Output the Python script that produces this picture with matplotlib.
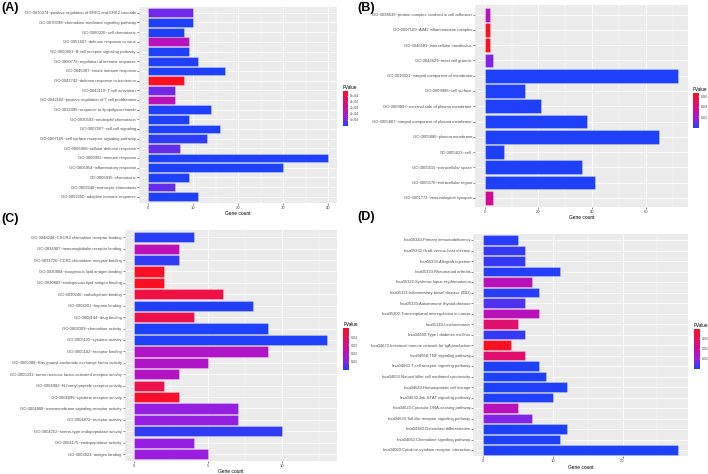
import numpy as np
import matplotlib
matplotlib.use("Agg")
import matplotlib.pyplot as plt
from matplotlib.colors import LinearSegmentedColormap, Normalize
from matplotlib.cm import ScalarMappable

plt.rcParams['font.family'] = ['Liberation Sans', 'DejaVu Sans']

# (A) biological process
a_terms = ["GO:0070374~positive regulation of ERK1 and ERK2 cascade",
           "GO:0070098~chemokine-mediated signaling pathway",
           "GO:0060326~cell chemotaxis",
           "GO:0051607~defense response to virus",
           "GO:0050853~B cell receptor signaling pathway",
           "GO:0050776~regulation of immune response",
           "GO:0045087~innate immune response",
           "GO:0042742~defense response to bacterium",
           "GO:0042110~T cell activation",
           "GO:0042102~positive regulation of T cell proliferation",
           "GO:0032496~response to lipopolysaccharide",
           "GO:0030593~neutrophil chemotaxis",
           "GO:0007267~cell-cell signaling",
           "GO:0007166~cell surface receptor signaling pathway",
           "GO:0006968~cellular defense response",
           "GO:0006955~immune response",
           "GO:0006954~inflammatory response",
           "GO:0006935~chemotaxis",
           "GO:0002548~monocyte chemotaxis",
           "GO:0002250~adaptive immune response"]
a_count = [10, 10, 8, 9, 9, 11, 17, 8, 6, 6, 14, 9, 16, 13, 7, 40, 30, 9, 6, 11]
a_pval = [1.0e-4, 2e-6, 1e-6, 2.3e-4, 1e-7, 5e-6, 1e-8, 5.85e-4, 1.0e-4, 2.4e-4,
          1e-7, 1e-6, 1e-6, 2e-5, 8e-5, 1e-15, 1e-12, 1e-6, 8e-5, 3e-6]

# (B) cellular component
b_terms = ["GO:0098636~protein complex involved in cell adhesion",
           "GO:0097169~AIM2 inflammasome complex",
           "GO:0046581~intercellular canaliculus",
           "GO:0042629~mast cell granule",
           "GO:0016021~integral component of membrane",
           "GO:0009986~cell surface",
           "GO:0009897~external side of plasma membrane",
           "GO:0005887~integral component of plasma membrane",
           "GO:0005886~plasma membrane",
           "GO:0005623~cell",
           "GO:0005615~extracellular space",
           "GO:0005576~extracellular region",
           "GO:0001772~immunological synapse"]
b_count = [2, 2, 2, 3, 72, 15, 21, 38, 65, 7, 36, 41, 3]
b_pval = [0.026, 0.065, 0.066, 0.013, 1e-6, 1e-5, 1e-6, 1e-8, 1e-12, 1e-4, 1e-9, 1e-10, 0.036]

# (C) molecular function
c_terms = ["GO:0048248~CXCR3 chemokine receptor binding",
           "GO:0034987~immunoglobulin receptor binding",
           "GO:0031726~CCR1 chemokine receptor binding",
           "GO:0030884~exogenous lipid antigen binding",
           "GO:0030883~endogenous lipid antigen binding",
           "GO:0030246~carbohydrate binding",
           "GO:0008201~heparin binding",
           "GO:0008144~drug binding",
           "GO:0008009~chemokine activity",
           "GO:0005125~cytokine activity",
           "GO:0005102~receptor binding",
           "GO:0005088~Ras guanyl-nucleotide exchange factor activity",
           "GO:0005031~tumor necrosis factor-activated receptor activity",
           "GO:0004982~N-formyl peptide receptor activity",
           "GO:0004896~cytokine receptor activity",
           "GO:0004888~transmembrane signaling receptor activity",
           "GO:0004872~receptor activity",
           "GO:0004252~serine-type endopeptidase activity",
           "GO:0004175~endopeptidase activity",
           "GO:0003823~antigen binding"]
c_count = [4, 3, 3, 2, 2, 6, 8, 4, 9, 13, 9, 5, 3, 2, 3, 7, 7, 10, 4, 5]
c_pval = [0.001, 0.021, 0.002, 0.05, 0.05, 0.043, 0.0005, 0.041, 1e-5, 1e-6,
          0.018, 0.018, 0.019, 0.041, 0.048, 0.012, 0.012, 0.002, 0.012, 0.013]

# (D) KEGG pathway
d_terms = ["hsa05340:Primary immunodeficiency",
           "hsa05332:Graft-versus-host disease",
           "hsa05330:Allograft rejection",
           "hsa05323:Rheumatoid arthritis",
           "hsa05322:Systemic lupus erythematosus",
           "hsa05321:Inflammatory bowel disease (IBD)",
           "hsa05320:Autoimmune thyroid disease",
           "hsa05202:Transcriptional misregulation in cancer",
           "hsa05140:Leishmaniasis",
           "hsa04940:Type I diabetes mellitus",
           "hsa04672:Intestinal immune network for IgA production",
           "hsa04668:TNF signaling pathway",
           "hsa04660:T cell receptor signaling pathway",
           "hsa04650:Natural killer cell mediated cytotoxicity",
           "hsa04640:Hematopoietic cell lineage",
           "hsa04630:Jak-STAT signaling pathway",
           "hsa04623:Cytosolic DNA-sensing pathway",
           "hsa04620:Toll-like receptor signaling pathway",
           "hsa04380:Osteoclast differentiation",
           "hsa04062:Chemokine signaling pathway",
           "hsa04060:Cytokine-cytokine receptor interaction"]
d_count = [5, 6, 6, 11, 7, 8, 6, 8, 5, 6, 4, 6, 8, 9, 12, 10, 5, 7, 12, 11, 28]
d_pval = [0.001, 0.002, 0.002, 0.0005, 0.016, 0.001, 0.004, 0.016, 0.027, 0.002,
          0.039, 0.027, 1e-4, 1e-4, 1e-5, 1e-4, 0.016, 0.008, 1e-5, 1e-6, 1e-10]

W, H = 708, 474
fig = plt.figure(figsize=(W / 100, H / 100), dpi=100)

# ggplot-like blue -> red gradient (through Lab magenta)
cmap = LinearSegmentedColormap.from_list(
    'pv', ['#1E40F8', '#9B1DE0', '#CC0AA0', '#E8105A', '#FA1020'])


def box(l, t, r, b):
    return [l / W, 1 - b / H, (r - l) / W, (b - t) / H]


def panel(rect, terms, counts, pvals, xticks, vmax, crect, cticks, clabels):
    ax = fig.add_axes(box(*rect))
    ax.set_facecolor('#EBEBEB')
    n = len(terms)
    y = np.arange(n, 0, -1)
    norm = Normalize(0, vmax)
    ax.barh(y, counts, height=0.9, color=cmap(norm(np.array(pvals))),
            edgecolor=(1, 1, 1, 0.35), linewidth=0.5, zorder=3)
    xmax = max(counts)
    lo, hi = -0.05 * xmax, 1.05 * xmax
    ax.set_yticks(y)
    ax.set_yticklabels(terms, fontsize=3, color='#4D4D4D')
    ax.set_xticks(xticks)
    ax.set_xticklabels([str(t) for t in xticks], fontsize=3, color='#4D4D4D')
    step = xticks[1] - xticks[0]
    minor = np.arange(xticks[0] - step / 2, hi, step)
    ax.set_xticks(minor[(minor > lo) & (minor < hi)], minor=True)
    ax.set_xlim(lo, hi)
    ax.set_ylim(0.4, n + 0.6)
    ax.tick_params(which='major', length=1.2, width=0.4, color='#333333', pad=1)
    ax.tick_params(which='minor', length=0)
    ax.grid(which='major', color='white', linewidth=0.6)
    ax.grid(which='minor', axis='x', color='white', linewidth=0.3)
    ax.set_axisbelow(True)
    for s in ax.spines.values():
        s.set_visible(False)
    ax.set_xlabel('Gene count', fontsize=3.5, labelpad=1)

    cax = fig.add_axes(box(*crect))
    cb = fig.colorbar(ScalarMappable(norm=norm, cmap=cmap), cax=cax, ticks=cticks)
    cb.outline.set_visible(False)
    cax.set_yticklabels(clabels, fontsize=2.5, color='#4D4D4D')
    cax.tick_params(length=1, width=0.4, color='white', direction='in', pad=1)
    cax.set_title('PValue', fontsize=3.3, loc='left', pad=1.5)
    return ax


panel((139, 7, 337, 202.5), a_terms, a_count, a_pval, [0, 10, 20, 30, 40], 5.85e-4,
      (342.7, 90.7, 348.3, 126), [1e-4, 2e-4, 3e-4, 4e-4, 5e-4],
      ['1e-04', '2e-04', '3e-04', '4e-04', '5e-04'])
panel((475, 5.5, 688, 207), b_terms, b_count, b_pval, [0, 20, 40, 60], 0.0657,
      (693, 93, 699, 128), [0.02, 0.04, 0.06], ['0.02', '0.04', '0.06'])
panel((124.7, 230.4, 336.5, 461), c_terms, c_count, c_pval, [0, 5, 10], 0.051,
      (343.3, 328, 349, 370), [0.01, 0.02, 0.03, 0.04], ['0.01', '0.02', '0.03', '0.04'])
panel((473.5, 233.7, 688, 456.3), d_terms, d_count, d_pval, [0, 10, 20], 0.0395,
      (694, 329, 700, 369), [0.01, 0.02, 0.03], ['0.01', '0.02', '0.03'])

for x, yy, s in [(1, 2, '(A)'), (357, 2, '(B)'), (1, 213, '(C)'), (357, 211, '(D)')]:
    fig.text(x / W, 1 - yy / H, s, fontsize=9, fontweight='bold', va='top', ha='left')

fig.savefig('out.png', dpi=100)
